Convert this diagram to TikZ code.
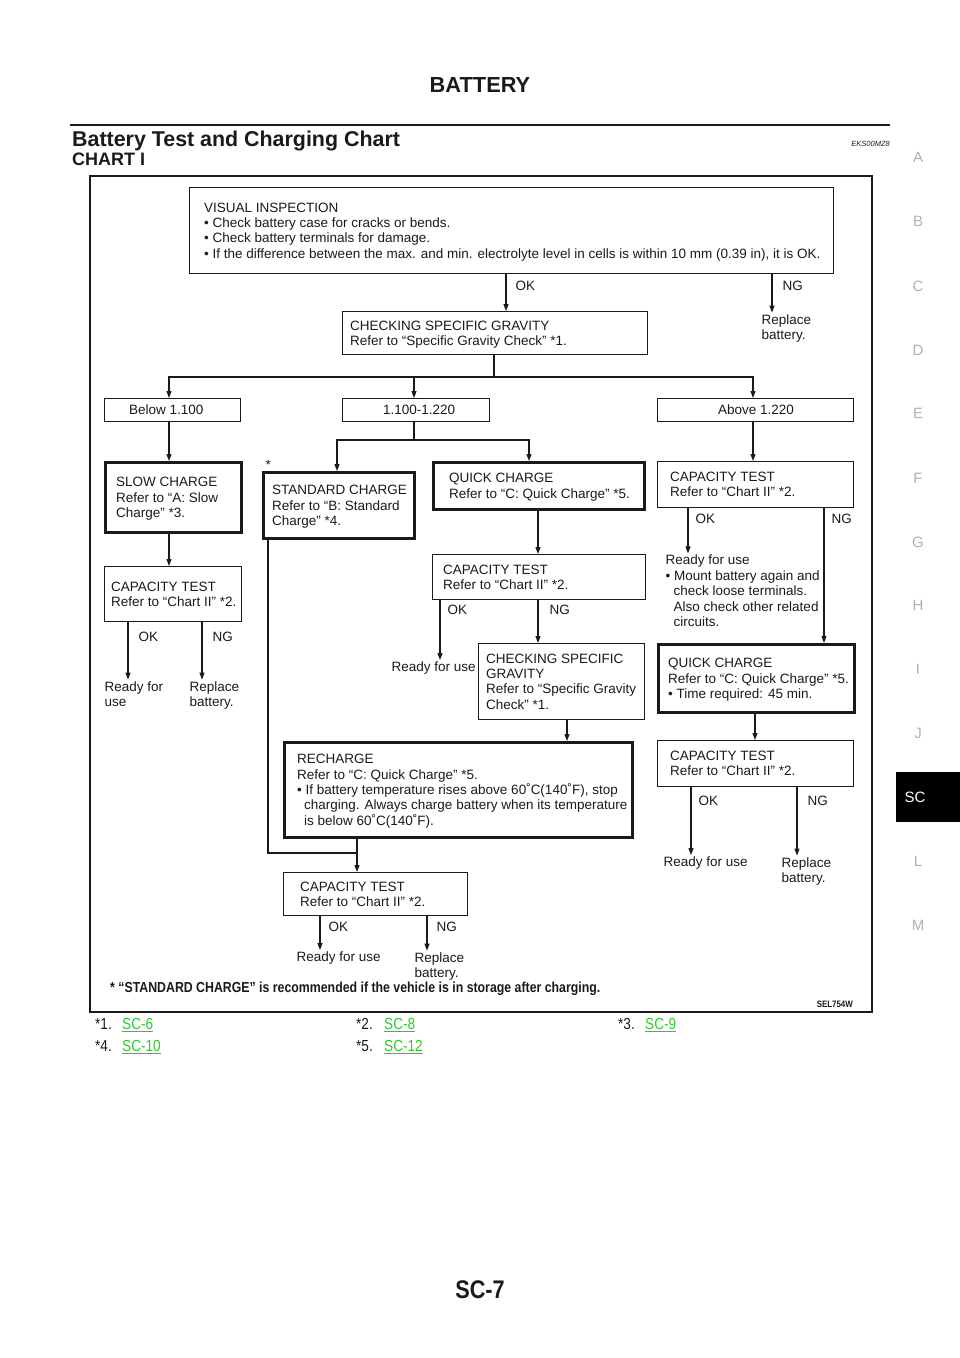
\documentclass[tikz,border=0pt]{standalone}
\usepackage{fontspec}
\setmainfont{Liberation Sans}
\newfontfamily\condfont{Liberation Sans}[FakeStretch=0.85]
\usetikzlibrary{arrows.meta}
\definecolor{ink}{HTML}{1A1A1A}
\definecolor{linkgreen}{HTML}{2EC82E}
\definecolor{tabgray}{HTML}{B0B0B0}
\newcommand{\flowbox}[8]{%
  \node[#2, minimum width=#5pt, minimum height=#6pt] (#1) at (#3,#4) {};
  \node[txt, anchor=west] (#1-t) at ([xshift=#7pt,yshift=-1.6pt]#1.west) {\strut#8\strut};}
\begin{document}
\begin{tikzpicture}[x=1pt,y=-1pt,
  txt/.style={font=\fontsize{13.5}{15.4}\selectfont, align=left, inner sep=0pt, text=ink},
  thinbox/.style={draw=ink, line width=1.2pt, anchor=north west, inner sep=0pt},
  thickbox/.style={draw=ink, line width=2.8pt, anchor=north west, inner sep=0pt},
  conn/.style={draw=ink, line width=1.1pt},
  arr/.style={conn, -{Triangle[length=7pt,width=5pt]}},
  lbl/.style={font=\fontsize{13.5}{15.4}\selectfont, inner sep=1.5pt, text=ink, align=left, anchor=base west},
  tab/.style={font=\fontsize{15}{18}\selectfont, text=tabgray},
  fnt/.style={font=\condfont\fontsize{16}{18}\selectfont, text=ink, anchor=base west, inner sep=0pt},
  link/.style={fnt, text=linkgreen},
]
\useasboundingbox (0,0) rectangle (960,1358);

% page header
\node[font=\bfseries\fontsize{21.8}{24}\selectfont, anchor=base, text=ink, inner sep=0pt] (hdr) at (480,92.5) {BATTERY};
\draw[line width=2.5pt, ink] (70,125) -- (890,125);
\node[anchor=base west, inner sep=0pt, font=\bfseries\fontsize{21.4}{24}\selectfont, text=ink] (title) at (72,146.5) {Battery Test and Charging Chart};
\node[anchor=base east, inner sep=0pt, font=\itshape\fontsize{7.5}{9}\selectfont, text=ink] (eks) at (890,146) {EKS00MZ8};
\node[anchor=base west, inner sep=0pt, font=\bfseries\fontsize{18}{20}\selectfont, text=ink] (chart) at (72,165) {CHART I};

% frame
\draw[line width=1.8pt, ink] (90,176) rectangle (872,1012);

% boxes
\flowbox{vi}{thinbox}{189}{187}{644}{86}{15}{VISUAL INSPECTION\\• Check battery case for cracks or bends.\\• Check battery terminals for damage.\\• If the difference between the max. and min. electrolyte level in cells is within 10 mm (0.39 in), it is OK.}
\flowbox{csg}{thinbox}{342}{311}{305}{43}{8}{CHECKING SPECIFIC GRAVITY\\Refer to “Specific Gravity Check” *1.}
\flowbox{b1}{thinbox}{104}{398}{136}{23}{25}{Below 1.100}
\flowbox{b2}{thinbox}{342}{398}{147}{23}{41}{1.100-1.220}
\flowbox{b3}{thinbox}{657}{398}{196}{23}{61}{Above 1.220}
\flowbox{slow}{thickbox}{104}{461}{136}{70}{12}{SLOW CHARGE\\Refer to “A: Slow\\Charge” *3.}
\flowbox{std}{thickbox}{262}{471}{151}{66}{10}{STANDARD CHARGE\\Refer to “B: Standard\\Charge” *4.}
\flowbox{qc}{thickbox}{432}{461}{211}{47}{17}{QUICK CHARGE\\Refer to “C: Quick Charge” *5.}
\flowbox{cr1}{thinbox}{657}{461}{196}{46}{13}{CAPACITY TEST\\Refer to “Chart II” *2.}
\flowbox{capL}{thinbox}{104}{566}{137}{55}{7}{CAPACITY TEST\\Refer to “Chart II” *2.}
\flowbox{capM}{thinbox}{432}{554}{213}{45}{11}{CAPACITY TEST\\Refer to “Chart II” *2.}
\flowbox{csg2}{thinbox}{478}{643}{166}{76}{8}{CHECKING SPECIFIC\\GRAVITY\\Refer to “Specific Gravity\\Check” *1.}
\flowbox{rech}{thickbox}{283}{741}{348}{95}{14}{RECHARGE\\Refer to “C: Quick Charge” *5.\\• If battery temperature rises above 60˚C(140˚F), stop\\\hspace*{7pt}charging. Always charge battery when its temperature\\\hspace*{7pt}is below 60˚C(140˚F).}
\flowbox{capB}{thinbox}{283}{872}{184}{43}{17}{CAPACITY TEST\\Refer to “Chart II” *2.}
\flowbox{qcR}{thickbox}{657}{643}{196}{68}{11}{QUICK CHARGE\\Refer to “C: Quick Charge” *5.\\• Time required: 45 min.}
\flowbox{capR2}{thinbox}{657}{740}{196}{46}{13}{CAPACITY TEST\\Refer to “Chart II” *2.}

\node[lbl] (star) at (264,469) {*};

% labels and end texts (base = baseline of last line)
\node[lbl] (ok1) at (514,290.5) {OK};
\node[lbl] (ng1) at (781,290.5) {NG};
\node[lbl] (rep1) at (760,339.5) {Replace\\battery.};
\node[lbl] (ok2) at (694,523.5) {OK};
\node[lbl] (ng2) at (830,523.5) {NG};
\node[lbl] (rdR) at (664,626.5) {Ready for use\\• Mount battery again and\\\hspace*{8pt}check loose terminals.\\\hspace*{8pt}Also check other related\\\hspace*{8pt}circuits.};
\node[lbl] (okL) at (137,641.5) {OK};
\node[lbl] (ngL) at (211,641.5) {NG};
\node[lbl] (rdL) at (103,706.5) {Ready for\\use};
\node[lbl] (repL) at (188,706.5) {Replace\\battery.};
\node[lbl] (okM) at (446,614.5) {OK};
\node[lbl] (ngM) at (548,614.5) {NG};
\node[lbl] (rdM) at (390,671.5) {Ready for use};
\node[lbl] (okB) at (327,931.5) {OK};
\node[lbl] (ngB) at (435,931.5) {NG};
\node[lbl] (rdB) at (295,961.5) {Ready for use};
\node[lbl] (repB) at (413,977.5) {Replace\\battery.};
\node[lbl] (okR) at (697,805.5) {OK};
\node[lbl] (ngR) at (806,805.5) {NG};
\node[lbl] (rdR2) at (662,866.5) {Ready for use};
\node[lbl] (repR2) at (780,882.5) {Replace\\battery.};

% connectors
\draw[arr] (506,0 |- vi.south) -- (506,0 |- csg.north);
\draw[arr] (772,0 |- vi.south) -- (772,0 |- rep1.north);
\coordinate (s1) at (494,377);
\draw[conn] (494,0 |- csg.south) -- (s1);
\draw[arr] (s1) -| (169,0 |- b1.north);
\draw[arr] (s1) -| (753,0 |- b3.north);
\draw[arr] (414,377) -- (414,0 |- b2.north);
\draw[arr] (169,0 |- b1.south) -- (169,0 |- slow.north);
\coordinate (s2) at (414,440);
\draw[conn] (414,0 |- b2.south) -- (s2);
\draw[arr] (s2) -| (337,0 |- std.north);
\draw[arr] (s2) -| (529,0 |- qc.north);
\draw[arr] (753,0 |- b3.south) -- (753,0 |- cr1.north);
\draw[arr] (169,0 |- slow.south) -- (169,0 |- capL.north);
\draw[arr] (128,0 |- capL.south) -- (128,0 |- rdL.north);
\draw[arr] (202,0 |- capL.south) -- (202,0 |- repL.north);
\draw[arr] (538,0 |- qc.south) -- (538,0 |- capM.north);
\draw[arr] (440,0 |- capM.south) -- (440,0 |- rdM.north);
\draw[arr] (538,0 |- capM.south) -- (538,0 |- csg2.north);
\draw[arr] (567,0 |- csg2.south) -- (567,0 |- rech.north);
\coordinate (s3) at (357,853);
\draw[conn] (268,0 |- std.south) |- (s3);
\draw[arr] (357,0 |- rech.south) -- (357,0 |- capB.north);
\draw[arr] (320,0 |- capB.south) -- (320,0 |- rdB.north);
\draw[arr] (427,0 |- capB.south) -- (427,0 |- repB.north);
\draw[arr] (688,0 |- cr1.south) -- (688,0 |- rdR.north);
\draw[arr] (824,0 |- cr1.south) -- (824,0 |- qcR.north);
\draw[arr] (755,0 |- qcR.south) -- (755,0 |- capR2.north);
\draw[arr] (691,0 |- capR2.south) -- (691,0 |- rdR2.north);
\draw[arr] (797,0 |- capR2.south) -- (797,0 |- repR2.north);

% notes inside frame
\node[anchor=base west, inner sep=0pt, font=\condfont\bfseries\fontsize{14.5}{16}\selectfont, text=ink] (note) at (110,992.5) {* “STANDARD CHARGE” is recommended if the vehicle is in storage after charging.};
\node[anchor=base east, inner sep=0pt, font=\condfont\bfseries\fontsize{9.3}{10}\selectfont, text=ink] (sel) at (853,1007) {SEL754W};

% references
\node[fnt] (r1) at (95,1029.5) {*1.};
\node[link] (l1) at (122,1029.5) {\underline{SC-6}};
\node[fnt] (r2) at (356,1029.5) {*2.};
\node[link] (l2) at (384,1029.5) {\underline{SC-8}};
\node[fnt] (r3) at (618,1029.5) {*3.};
\node[link] (l3) at (645,1029.5) {\underline{SC-9}};
\node[fnt] (r4) at (95,1051.5) {*4.};
\node[link] (l4) at (122,1051.5) {\underline{SC-10}};
\node[fnt] (r5) at (356,1051.5) {*5.};
\node[link] (l5) at (384,1051.5) {\underline{SC-12}};

% side tabs
\node[tab] (tA) at (918,157) {A};
\node[tab] (tB) at (918,221) {B};
\node[tab] (tC) at (918,286) {C};
\node[tab] (tD) at (918,350) {D};
\node[tab] (tE) at (918,413) {E};
\node[tab] (tF) at (918,478) {F};
\node[tab] (tG) at (918,542) {G};
\node[tab] (tH) at (918,605) {H};
\node[tab] (tI) at (918,669) {I};
\node[tab] (tJ) at (918,733) {J};
\fill[black] (896,772) rectangle (960,822);
\node[tab, text=white] (tSC) at (915,797) {SC};
\node[tab] (tL) at (918,861) {L};
\node[tab] (tM) at (918,925) {M};

% page number
\node[font=\condfont\bfseries\fontsize{25.5}{28}\selectfont, text=ink] (pg) at (480,1290) {SC-7};
\end{tikzpicture}
\end{document}
